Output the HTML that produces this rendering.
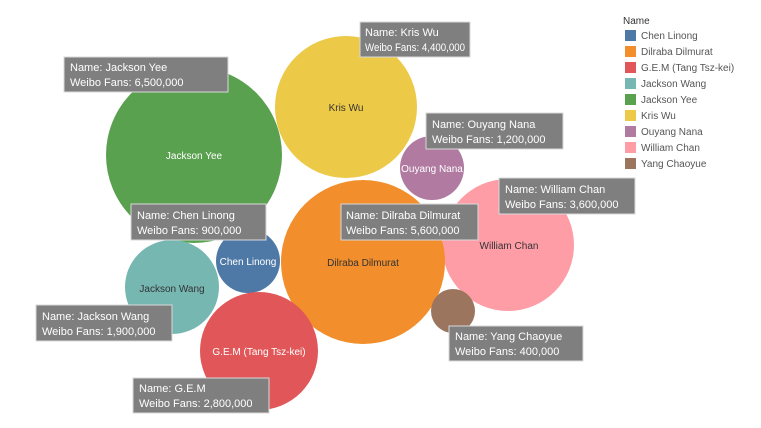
<!DOCTYPE html>
<html><head><meta charset="utf-8"><style>
html,body{margin:0;padding:0;background:#fff;}
svg{display:block;font-family:"Liberation Sans",sans-serif;}
.tt{fill:#7f7f7f;stroke:#d8d8d8;stroke-width:1}
.tx{fill:#fff;font-size:11px}
.lb{font-size:10px}
.lg{font-size:10px;fill:#555}
</style></head><body>
<svg width="761" height="428" viewBox="0 0 761 428">
<circle cx="194" cy="155" r="88" fill="#59a14f"/>
<circle cx="346" cy="107" r="71" fill="#edc948"/>
<circle cx="432" cy="168" r="32" fill="#b07aa1"/>
<circle cx="508" cy="245" r="66" fill="#ff9da7"/>
<circle cx="363" cy="262" r="82" fill="#f28e2b"/>
<circle cx="248" cy="261" r="32" fill="#4e79a7"/>
<circle cx="172" cy="287" r="47" fill="#76b7b2"/>
<circle cx="259" cy="351" r="59" fill="#e15759"/>
<circle cx="453" cy="311" r="22" fill="#9c755f"/>
<text class="lb" x="194" y="159" text-anchor="middle" fill="#fff">Jackson Yee</text>
<text class="lb" x="346" y="111" text-anchor="middle" fill="#333">Kris Wu</text>
<text class="lb" x="432" y="172" text-anchor="middle" fill="#fff">Ouyang Nana</text>
<text class="lb" x="509" y="249" text-anchor="middle" fill="#333">William Chan</text>
<text class="lb" x="363" y="266" text-anchor="middle" fill="#333">Dilraba Dilmurat</text>
<text class="lb" x="248" y="265" text-anchor="middle" fill="#fff">Chen Linong</text>
<text class="lb" x="172" y="292" text-anchor="middle" fill="#333">Jackson Wang</text>
<text class="lb" x="259" y="355" text-anchor="middle" fill="#fff">G.E.M (Tang Tsz-kei)</text>
<g>
<rect class="tt" x="64" y="57" width="164" height="35"/><text class="tx" x="70" y="71">Name: Jackson Yee</text><text class="tx" x="70" y="86">Weibo Fans: 6,500,000</text>
<rect class="tt" x="360" y="22" width="110" height="35"/><text class="tx" x="365" y="36">Name: Kris Wu</text><text class="tx" x="365" y="51" textLength="100" lengthAdjust="spacingAndGlyphs">Weibo Fans: 4,400,000</text>
<rect class="tt" x="426" y="113" width="137" height="36"/><text class="tx" x="432" y="128">Name: Ouyang Nana</text><text class="tx" x="432" y="143">Weibo Fans: 1,200,000</text>
<rect class="tt" x="131" y="204" width="135" height="36"/><text class="tx" x="137" y="219">Name: Chen Linong</text><text class="tx" x="137" y="234">Weibo Fans: 900,000</text>
<rect class="tt" x="341" y="204" width="137" height="36"/><text class="tx" x="346" y="219">Name: Dilraba Dilmurat</text><text class="tx" x="346" y="234">Weibo Fans: 5,600,000</text>
<rect class="tt" x="499" y="178" width="136" height="36"/><text class="tx" x="505" y="193">Name: William Chan</text><text class="tx" x="505" y="208">Weibo Fans: 3,600,000</text>
<rect class="tt" x="36" y="305" width="136" height="36"/><text class="tx" x="42" y="320">Name: Jackson Wang</text><text class="tx" x="42" y="335">Weibo Fans: 1,900,000</text>
<rect class="tt" x="449" y="326" width="134" height="35"/><text class="tx" x="455" y="340">Name: Yang Chaoyue</text><text class="tx" x="455" y="355">Weibo Fans: 400,000</text>
<rect class="tt" x="133" y="378" width="136" height="35"/><text class="tx" x="139" y="392">Name: G.E.M</text><text class="tx" x="139" y="407">Weibo Fans: 2,800,000</text>
</g>
<text x="623" y="24" font-size="10" fill="#333">Name</text>
<g>
<rect x="625" y="30" width="11" height="11" fill="#4e79a7"/><text class="lg" x="641" y="39">Chen Linong</text>
<rect x="625" y="46" width="11" height="11" fill="#f28e2b"/><text class="lg" x="641" y="55">Dilraba Dilmurat</text>
<rect x="625" y="62" width="11" height="11" fill="#e15759"/><text class="lg" x="641" y="71">G.E.M (Tang Tsz-kei)</text>
<rect x="625" y="78" width="11" height="11" fill="#76b7b2"/><text class="lg" x="641" y="87">Jackson Wang</text>
<rect x="625" y="94" width="11" height="11" fill="#59a14f"/><text class="lg" x="641" y="103">Jackson Yee</text>
<rect x="625" y="110" width="11" height="11" fill="#edc948"/><text class="lg" x="641" y="119">Kris Wu</text>
<rect x="625" y="126" width="11" height="11" fill="#b07aa1"/><text class="lg" x="641" y="135">Ouyang Nana</text>
<rect x="625" y="142" width="11" height="11" fill="#ff9da7"/><text class="lg" x="641" y="151">William Chan</text>
<rect x="625" y="158" width="11" height="11" fill="#9c755f"/><text class="lg" x="641" y="167">Yang Chaoyue</text>
</g>
</svg>
</body></html>
